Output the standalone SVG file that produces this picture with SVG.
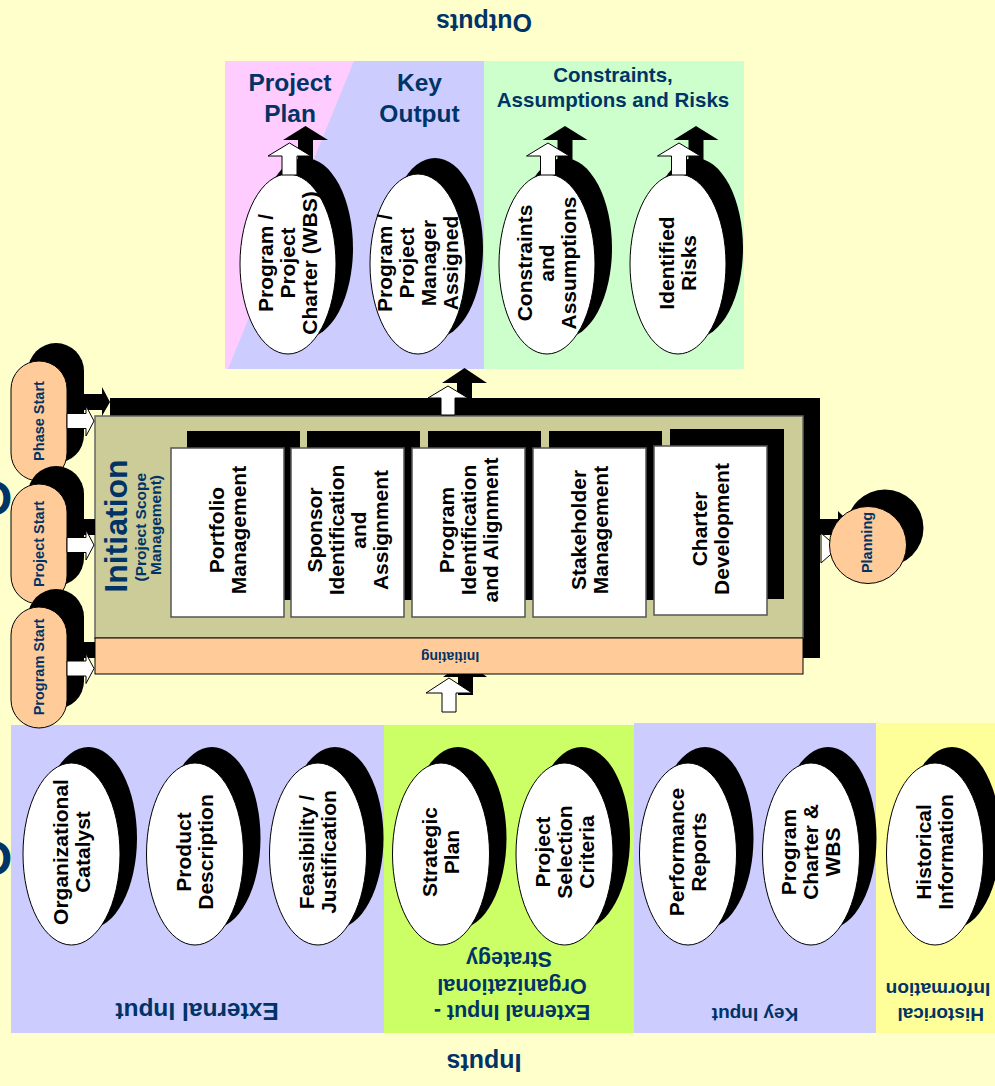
<svg xmlns="http://www.w3.org/2000/svg" width="995" height="1086" viewBox="0 0 995 1086">
<defs>
<style>
  text { font-family: "Liberation Sans", Arial, sans-serif; font-weight: bold; }
  .navy { fill: #003366; }
  .ink { fill: #000; }
  .mid { text-anchor: middle; }
  .shadow { fill: #000; }
  .oval { fill: #fff; stroke: #000; stroke-width: 1; }
  .box { fill: #fff; stroke: #555; stroke-width: 1.5; }
  .peach { fill: #FFCC99; stroke: #000; stroke-width: 1; }
  .aw { fill: #fff; stroke: #000; stroke-width: 1; stroke-linejoin: miter; }
  .ab { fill: #000; }
  .nt { font-size: 21px; fill: #000; text-anchor: middle; }
</style>
</defs>

<!-- page background -->
<rect x="0" y="0" width="995" height="1086" fill="#FFFFCC"/>

<!-- section titles -->
<g id="titles">
  <text class="navy mid" font-size="25" transform="translate(484,14) rotate(180)">Outputs</text>
  <text class="navy mid" font-size="25" transform="translate(484,1054) rotate(180)">Inputs</text>
  <text class="navy" font-size="48" x="-25" y="515">O</text>
  <text class="navy" font-size="48" x="-25" y="875">O</text>
</g>

<!-- output panels -->
<g id="outputs-panel">
  <rect x="225" y="61" width="259" height="308" fill="#CCCCFF"/>
  <polygon points="225,61 354,61 228,369 225,369" fill="#FFCCFF"/>
  <rect x="484" y="61" width="260" height="308" fill="#CCFFCC"/>
  <text class="navy mid" font-size="24.5" x="290" y="91">Project</text>
  <text class="navy mid" font-size="24.5" x="290" y="122">Plan</text>
  <text class="navy mid" font-size="24.5" x="419.5" y="91">Key</text>
  <text class="navy mid" font-size="24.5" x="419.5" y="122">Output</text>
  <text class="navy mid" font-size="20.5" x="613" y="82">Constraints,</text>
  <text class="navy mid" font-size="20.5" x="613" y="107">Assumptions and Risks</text>
</g>

<!-- input panels -->
<g id="inputs-panel">
  <rect x="11" y="725" width="373" height="308" fill="#CCCCFF"/>
  <rect x="384" y="725" width="250" height="308" fill="#CCFF66"/>
  <rect x="634" y="723" width="242" height="310" fill="#CCCCFF"/>
  <rect x="876" y="723" width="119" height="310" fill="#FFFF99"/>
  <text class="navy mid" font-size="24.5" transform="translate(197,1003) rotate(180)">External Input</text>
  <text class="navy mid" font-size="21.5" transform="translate(509,1005) rotate(180)">
    <tspan x="0" y="0">External Input -</tspan>
    <tspan x="0" y="26.5">Organizational</tspan>
    <tspan x="0" y="53">Strategy</tspan>
  </text>
  <text class="navy mid" font-size="19" transform="translate(755,1007.5) rotate(180)">Key Input</text>
  <text class="navy mid" font-size="19" transform="translate(938,1007.5) rotate(180)">
    <tspan x="0" y="0">Historical</tspan>
    <tspan x="0" y="25">Information</tspan>
  </text>
</g>

<!-- initiation process block -->
<g id="initiation">
  <rect class="shadow" x="110" y="398" width="710" height="260"/>
  <rect x="95" y="416" width="708" height="222" fill="#CCCC99" stroke="#666" stroke-width="1.5"/>
  <rect class="peach" x="95" y="638" width="708" height="36"/>
  <text class="navy mid" font-size="14" transform="translate(450,651.5) rotate(180)">Initiating</text>
  <text class="navy mid" font-size="32" transform="translate(115,526) rotate(-90)" y="12">Initiation</text>
  <text class="navy mid" font-size="15.5" transform="translate(150,525) rotate(-90)">
    <tspan x="0" y="-4">(Project Scope</tspan>
    <tspan x="0" y="11">Management)</tspan>
  </text>
</g>

<g id="proc-portfolio">
  <rect class="shadow" x="187" y="431" width="113" height="169"/>
  <rect class="box" x="171" y="448" width="113" height="169"/>
  <text class="nt" font-size="21.5" transform="translate(227.5,530) rotate(-90)">
    <tspan x="0" y="-4">Portfolio</tspan><tspan x="0" y="18">Management</tspan>
  </text>
</g>
<g id="proc-sponsor">
  <rect class="shadow" x="307" y="431" width="113" height="169"/>
  <rect class="box" x="291" y="448" width="113" height="169"/>
  <text class="nt" font-size="21.5" transform="translate(348,530) rotate(-90)">
    <tspan x="0" y="-26">Sponsor</tspan><tspan x="0" y="-4">Identification</tspan><tspan x="0" y="18">and</tspan><tspan x="0" y="40">Assignment</tspan>
  </text>
</g>
<g id="proc-program">
  <rect class="shadow" x="428" y="431" width="113" height="169"/>
  <rect class="box" x="412" y="448" width="113" height="169"/>
  <text class="nt" font-size="21.5" transform="translate(468.5,530) rotate(-90)">
    <tspan x="0" y="-15">Program</tspan><tspan x="0" y="7">Identification</tspan><tspan x="0" y="29">and Alignment</tspan>
  </text>
</g>
<g id="proc-stakeholder">
  <rect class="shadow" x="549" y="431" width="113" height="169"/>
  <rect class="box" x="533" y="448" width="113" height="169"/>
  <text class="nt" font-size="21.5" transform="translate(589.5,530) rotate(-90)">
    <tspan x="0" y="-4">Stakeholder</tspan><tspan x="0" y="18">Management</tspan>
  </text>
</g>
<g id="proc-charter">
  <rect class="shadow" x="670" y="429" width="114" height="170"/>
  <rect class="box" x="654" y="446" width="113" height="169"/>
  <text class="nt" font-size="21.5" transform="translate(710.5,529) rotate(-90)">
    <tspan x="0" y="-4">Charter</tspan><tspan x="0" y="18">Development</tspan>
  </text>
</g>

<!-- start triggers -->
<g id="phase-start">
  <rect class="shadow" x="28" y="343" width="56" height="120" rx="28"/>
  <rect class="peach" x="11" y="361" width="56" height="120" rx="28"/>
  <text class="navy mid" font-size="14.5" transform="translate(39,421) rotate(-90)" y="5">Phase Start</text>
</g>
<g id="project-start">
  <rect class="shadow" x="28" y="466" width="56" height="120" rx="28"/>
  <rect class="peach" x="11" y="484" width="56" height="120" rx="28"/>
  <text class="navy mid" font-size="14.5" transform="translate(39,544) rotate(-90)" y="5">Project Start</text>
</g>
<g id="program-start">
  <rect class="shadow" x="28" y="589" width="56" height="120" rx="28"/>
  <rect class="peach" x="11" y="607" width="56" height="121" rx="28"/>
  <text class="navy mid" font-size="14.5" transform="translate(39,667) rotate(-90)" y="5">Program Start</text>
</g>

<!-- outputs -->
<g id="out-charter">
  <ellipse class="shadow" cx="305" cy="248" rx="48" ry="90"/>
  <ellipse class="oval" cx="288" cy="264" rx="48" ry="90"/>
  <text class="nt" font-size="20.5" transform="translate(288,263) rotate(-90)">
    <tspan x="0" y="-15">Program /</tspan><tspan x="0" y="7">Project</tspan><tspan x="0" y="29">Charter (WBS)</tspan>
  </text>
</g>
<g id="out-manager">
  <ellipse class="shadow" cx="435" cy="248" rx="48" ry="90"/>
  <ellipse class="oval" cx="418" cy="264" rx="48" ry="90"/>
  <text class="nt" font-size="21.5" transform="translate(418,263) rotate(-90)">
    <tspan x="0" y="-26">Program /</tspan><tspan x="0" y="-4">Project</tspan><tspan x="0" y="18">Manager</tspan><tspan x="0" y="40">Assigned</tspan>
  </text>
</g>
<g id="out-constraints">
  <ellipse class="shadow" cx="564" cy="248" rx="48" ry="90"/>
  <ellipse class="oval" cx="547" cy="264" rx="48" ry="90"/>
  <text class="nt" font-size="21.5" transform="translate(547,263) rotate(-90)">
    <tspan x="0" y="-15">Constraints</tspan><tspan x="0" y="7">and</tspan><tspan x="0" y="29">Assumptions</tspan>
  </text>
</g>
<g id="out-risks">
  <ellipse class="shadow" cx="695" cy="248" rx="48" ry="90"/>
  <ellipse class="oval" cx="678" cy="264" rx="48" ry="90"/>
  <text class="nt" font-size="21.5" transform="translate(678,263) rotate(-90)">
    <tspan x="0" y="-4">Identified</tspan><tspan x="0" y="18">Risks</tspan>
  </text>
</g>

<!-- inputs -->
<g id="in-catalyst">
  <ellipse class="shadow" cx="88.5" cy="838" rx="48.5" ry="91"/>
  <ellipse class="oval" cx="71.5" cy="854" rx="48.5" ry="91"/>
  <text class="nt" transform="translate(71.5,852) rotate(-90)">
    <tspan x="0" y="-4">Organizational</tspan><tspan x="0" y="18">Catalyst</tspan>
  </text>
</g>
<g id="in-product">
  <ellipse class="shadow" cx="212" cy="838" rx="48.5" ry="91"/>
  <ellipse class="oval" cx="195" cy="854" rx="48.5" ry="91"/>
  <text class="nt" transform="translate(195,852) rotate(-90)">
    <tspan x="0" y="-4">Product</tspan><tspan x="0" y="18">Description</tspan>
  </text>
</g>
<g id="in-feasibility">
  <ellipse class="shadow" cx="335" cy="838" rx="48.5" ry="91"/>
  <ellipse class="oval" cx="318" cy="854" rx="48.5" ry="91"/>
  <text class="nt" transform="translate(318,852) rotate(-90)">
    <tspan x="0" y="-4">Feasibility /</tspan><tspan x="0" y="18">Justification</tspan>
  </text>
</g>
<g id="in-strategic">
  <ellipse class="shadow" cx="458" cy="838" rx="48.5" ry="91"/>
  <ellipse class="oval" cx="441" cy="854" rx="48.5" ry="91"/>
  <text class="nt" transform="translate(441,852) rotate(-90)">
    <tspan x="0" y="-4">Strategic</tspan><tspan x="0" y="18">Plan</tspan>
  </text>
</g>
<g id="in-selection">
  <ellipse class="shadow" cx="581.5" cy="838" rx="48.5" ry="91"/>
  <ellipse class="oval" cx="564.5" cy="854" rx="48.5" ry="91"/>
  <text class="nt" transform="translate(564.5,852) rotate(-90)">
    <tspan x="0" y="-15">Project</tspan><tspan x="0" y="7">Selection</tspan><tspan x="0" y="29">Criteria</tspan>
  </text>
</g>
<g id="in-performance">
  <ellipse class="shadow" cx="705" cy="838" rx="48.5" ry="91"/>
  <ellipse class="oval" cx="688" cy="854" rx="48.5" ry="91"/>
  <text class="nt" transform="translate(688,852) rotate(-90)">
    <tspan x="0" y="-4">Performance</tspan><tspan x="0" y="18">Reports</tspan>
  </text>
</g>
<g id="in-charter-wbs">
  <ellipse class="shadow" cx="828" cy="838" rx="48.5" ry="91"/>
  <ellipse class="oval" cx="811" cy="854" rx="48.5" ry="91"/>
  <text class="nt" transform="translate(811,852) rotate(-90)">
    <tspan x="0" y="-15">Program</tspan><tspan x="0" y="7">Charter &amp;</tspan><tspan x="0" y="29">WBS</tspan>
  </text>
</g>
<g id="in-historical">
  <ellipse class="shadow" cx="952" cy="838" rx="48.5" ry="91"/>
  <ellipse class="oval" cx="935" cy="854" rx="48.5" ry="91"/>
  <text class="nt" transform="translate(935,852) rotate(-90)">
    <tspan x="0" y="-4">Historical</tspan><tspan x="0" y="18">Information</tspan>
  </text>
</g>

<!-- block arrows: black shadow arrow behind a white outlined arrow -->
<g id="connectors">
  <!-- start triggers into initiation -->
  <polygon class="ab" points="110,402 102,387 102,394 80,394 80,410 102,410 102,416"/>
  <polygon class="aw" points="94,421 86,406 86,413.5 67,413.5 67,428.5 86,428.5 86,436"/>
  <rect class="ab" x="80" y="519" width="15" height="16"/>
  <polygon class="aw" points="94,545 86,530 86,537.5 67,537.5 67,552.5 86,552.5 86,560"/>
  <rect class="ab" x="80" y="642" width="15" height="16"/>
  <polygon class="aw" points="94,668.5 86,653.5 86,661 67,661 67,676 86,676 86,683.5"/>

  <!-- initiation up to outputs -->
  <polygon class="ab" points="464.5,368 487,383 472,383 472,398 457,398 457,383 442,383"/>
  <polygon class="aw" points="448,386 468,398 455,398 455,415 441,415 441,398 428,398"/>

  <!-- output ellipses up -->
  <polygon class="ab" points="305.5,126 328,140 313,140 313,162 298,162 298,140 283,140"/>
  <polygon class="aw" points="289.5,143 311,156 297,156 297,175 282,175 282,156 268,156"/>
  <polygon class="ab" points="565,126 587.5,140 572.5,140 572.5,162 557.5,162 557.5,140 542.5,140"/>
  <polygon class="aw" points="548,143 569.5,156 555.5,156 555.5,175 540.5,175 540.5,156 526.5,156"/>
  <polygon class="ab" points="696,126 718.5,140 703.5,140 703.5,162 688.5,162 688.5,140 673.5,140"/>
  <polygon class="aw" points="679,143 700.5,156 686.5,156 686.5,175 671.5,175 671.5,156 657.5,156"/>

  <!-- inputs up into initiating -->
  <polygon class="ab" points="447,674 483,674 487,677 473,677 473,695 458,695 458,677 443,677"/>
  <polygon class="aw" points="449,678 472,693 456,693 456,712 442,712 442,693 426,693"/>

  <!-- initiation on to planning -->
  <polygon class="ab" points="854,527 838,511 838,519 820,519 820,535 838,535 838,543"/>
  <polygon class="aw" points="838,548 821,533 821,563"/>
</g>

<g id="planning">
  <circle class="shadow" cx="885" cy="528" r="38.5"/>
  <circle class="peach" cx="868" cy="545" r="38.5"/>
  <text class="navy mid" font-size="14.5" transform="translate(868,542.5) rotate(-90)" y="4">Planning</text>
</g>
</svg>
